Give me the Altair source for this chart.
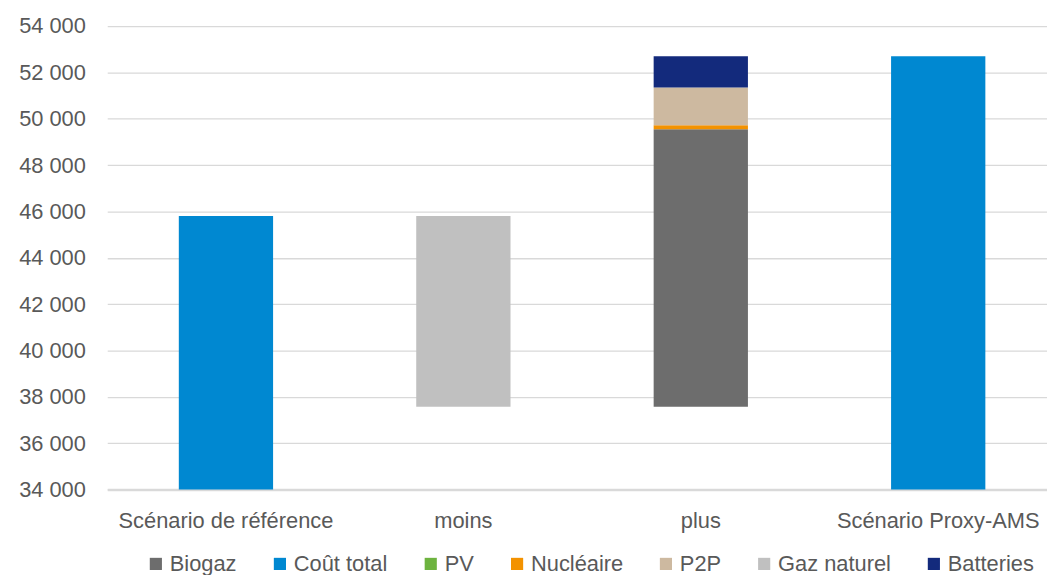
import altair as alt
import pandas as pd

categories = ["Scénario de référence", "moins", "plus", "Scénario Proxy-AMS"]
series = ["Biogaz", "Coût total", "PV", "Nucléaire", "P2P", "Gaz naturel", "Batteries"]
colors = ["#6d6d6d", "#0088d1", "#6db33f", "#f39200", "#cdb9a0", "#c0c0c0", "#132a7c"]

total_ref = 45800
total_proxy = 52700
gaz_naturel_moins = 8230
plus_series = ["Biogaz", "PV", "Nucléaire", "P2P", "Batteries"]
plus_values = [11980, 0, 170, 1630, 1350]

rows = [dict(cat=categories[0], series="Coût total", lo=0, hi=total_ref)]
base = total_ref - gaz_naturel_moins
rows.append(dict(cat=categories[1], series="Gaz naturel", lo=base, hi=total_ref))
cur = base
for s, v in zip(plus_series, plus_values):
    if v > 0:
        rows.append(dict(cat=categories[2], series=s, lo=cur, hi=cur + v))
    cur += v
rows.append(dict(cat=categories[3], series="Coût total", lo=0, hi=total_proxy))
df = pd.DataFrame(rows)

FONT = "Liberation Sans"
TXT = "#595959"
FS = 22

chart = alt.Chart(df).mark_bar(size=95, clip=True).encode(
    x=alt.X("cat:N", sort=categories, title=None,
            scale=alt.Scale(range=[0, 957]),
            axis=alt.Axis(labelAngle=0, ticks=False, domainColor="#d9d9d9", domainWidth=2.5,
                          labelFontSize=FS, labelColor=TXT, labelFont=FONT, labelPadding=21,
                          labelLimit=0)),
    y=alt.Y("lo:Q", title=None,
            scale=alt.Scale(domain=[34000, 54000], nice=False, zero=False),
            axis=alt.Axis(values=list(range(34000, 54001, 2000)), domain=False, ticks=False,
                          gridColor="#d9d9d9", gridWidth=1.3,
                          labelExpr="replace(format(datum.value, ',.0f'), ',', ' ')",
                          labelFontSize=FS, labelColor=TXT, labelFont=FONT, labelPadding=22)),
    y2="hi:Q",
    color=alt.Color("series:N", scale=alt.Scale(domain=series, range=colors),
                    legend=alt.Legend(title=None, orient="none", direction="horizontal",
                                      columns=7, legendX=38, legendY=531,
                                      symbolType="square", symbolSize=150, symbolStrokeWidth=0,
                                      symbolOpacity=1, labelFontSize=FS, labelColor=TXT,
                                      labelFont=FONT, columnPadding=32, labelOffset=3,
                                      labelLimit=0, padding=0)),
).properties(
    width=947, height=467,
    autosize=alt.AutoSizeParams(type="none"),
    padding={"left": 100, "top": 16, "right": 0, "bottom": 84},
).configure_view(stroke="transparent")

chart.save("out.html", embed_options={"renderer": "svg", "actions": False})
